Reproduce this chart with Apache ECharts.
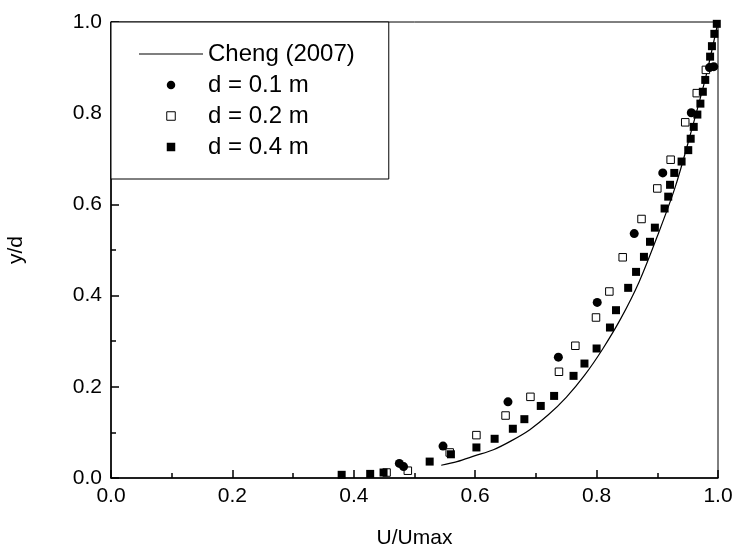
<!DOCTYPE html>
<html>
<head>
<meta charset="utf-8">
<script src="https://cdn.jsdelivr.net/npm/echarts@6/dist/echarts.min.js"></script>
<style>
html,body{margin:0;padding:0;background:#fff;}
#chart{width:737px;height:549px;}
</style>
</head>
<body>
<div id="chart"></div>
<script>
// Cheng (2007) curve
var chengX = [0.544, 0.57, 0.60, 0.63, 0.66, 0.69, 0.72, 0.75, 0.78, 0.81, 0.84, 0.87, 0.90, 0.93, 0.96, 0.98, 1.0];
var chengY = [0.028, 0.036, 0.049, 0.062, 0.082, 0.106, 0.138, 0.177, 0.225, 0.283, 0.350, 0.430, 0.530, 0.640, 0.780, 0.880, 1.0];

// d = 0.1 m (filled circles)
var d1X = [0.475, 0.482, 0.547, 0.654, 0.737, 0.801, 0.862, 0.909, 0.956, 0.986, 0.993];
var d1Y = [0.032, 0.025, 0.070, 0.167, 0.265, 0.385, 0.536, 0.669, 0.801, 0.900, 0.902];

// d = 0.2 m (open squares)
var d2X = [0.454, 0.489, 0.558, 0.602, 0.650, 0.691, 0.738, 0.765, 0.799, 0.821, 0.843, 0.874, 0.900, 0.922, 0.946, 0.965, 0.980];
var d2Y = [0.012, 0.016, 0.056, 0.094, 0.137, 0.178, 0.233, 0.290, 0.352, 0.409, 0.484, 0.568, 0.635, 0.698, 0.780, 0.844, 0.895];

// d = 0.4 m (filled squares)
var d4X = [0.380, 0.427, 0.449, 0.525, 0.560, 0.602, 0.632, 0.662, 0.681, 0.708, 0.730, 0.762, 0.780, 0.800, 0.822, 0.832, 0.852, 0.865, 0.878, 0.888, 0.896, 0.912, 0.918, 0.921, 0.928, 0.940, 0.951, 0.955, 0.960, 0.966, 0.971, 0.975, 0.979, 0.987, 0.990, 0.994, 0.998];
var d4Y = [0.007, 0.009, 0.012, 0.036, 0.052, 0.067, 0.086, 0.108, 0.129, 0.158, 0.180, 0.224, 0.251, 0.284, 0.330, 0.368, 0.417, 0.452, 0.485, 0.518, 0.549, 0.591, 0.617, 0.643, 0.669, 0.694, 0.719, 0.744, 0.770, 0.797, 0.821, 0.847, 0.873, 0.924, 0.947, 0.974, 0.996];

var seriesNames = ['Cheng (2007)', 'd = 0.1 m', 'd = 0.2 m', 'd = 0.4 m'];
var xTitle = 'U/Umax';
var yTitle = 'y/d';

function pairs(xs, ys) { return xs.map(function (x, i) { return [x, ys[i]]; }); }

var FONT = '"Liberation Sans", Arial, Helvetica, sans-serif';
var SQUARE = 'path://M0,0H10V10H0Z';
var LINE_ICON = 'path://M0,0H64V1H0Z';

var chart = echarts.init(document.getElementById('chart'), null, {renderer: 'canvas'});

function axisCommon(name, nameGap) {
  return {
    type: 'value', min: 0, max: 1, interval: 0.2,
    name: name, nameLocation: 'middle', nameGap: nameGap,
    nameTextStyle: {color: '#000', fontSize: 21, fontFamily: FONT},
    axisLine: {show: true, onZero: false, lineStyle: {color: '#000', width: 1.5}},
    axisTick: {show: true, inside: true, length: 8, lineStyle: {color: '#000', width: 1.5}},
    minorTick: {show: true, splitNumber: 2, length: 5, lineStyle: {color: '#000', width: 1.5}},
    axisLabel: {color: '#000', fontSize: 21, fontFamily: FONT, margin: 9,
      formatter: function (v) { return v.toFixed(1); }},
    splitLine: {show: false},
    minorSplitLine: {show: false}
  };
}

var xAx = axisCommon(xTitle, 50);
xAx.axisLabel.margin = 8;
var yAx = axisCommon(yTitle, 84);

chart.setOption({
  animation: false,
  backgroundColor: '#fff',
  grid: {left: 111, right: 19, top: 22, bottom: 71, containLabel: false, outerBoundsMode: 'none',
    show: true, borderColor: '#000', borderWidth: 1, backgroundColor: 'transparent'},
  xAxis: xAx,
  yAxis: yAx,
  legend: {
    show: true, orient: 'vertical', left: 111, top: 22,
    padding: [20, 34, 20, 28], itemGap: 7,
    itemWidth: 64, itemHeight: 8.5,
    symbolKeepAspect: true,
    borderColor: '#000', borderWidth: 1, backgroundColor: '#fff',
    textStyle: {color: '#000', fontSize: 24, fontFamily: FONT},
    data: [
      {name: seriesNames[0], icon: LINE_ICON, itemStyle: {color: '#000', borderWidth: 0}},
      {name: seriesNames[1], icon: 'circle', itemStyle: {color: '#000', opacity: 1}},
      {name: seriesNames[2], icon: SQUARE, itemStyle: {color: '#fff', borderColor: '#000', borderWidth: 1, opacity: 1}},
      {name: seriesNames[3], icon: SQUARE, itemStyle: {color: '#000', opacity: 1}}
    ]
  },
  series: [
    {
      name: seriesNames[0], type: 'line', data: pairs(chengX, chengY),
      symbol: 'none', showSymbol: false, smooth: 0.3,
      lineStyle: {color: '#000', width: 1.2}, itemStyle: {color: '#000'}, z: 1
    },
    {
      name: seriesNames[1], type: 'scatter', data: pairs(d1X, d1Y),
      symbol: 'circle', symbolSize: 9, itemStyle: {color: '#000', opacity: 1}, z: 3
    },
    {
      name: seriesNames[2], type: 'scatter', data: pairs(d2X, d2Y),
      symbol: 'rect', symbolSize: 7.5, itemStyle: {color: '#fff', borderColor: '#000', borderWidth: 1, opacity: 1}, z: 2
    },
    {
      name: seriesNames[3], type: 'scatter', data: pairs(d4X, d4Y),
      symbol: 'rect', symbolSize: 8, itemStyle: {color: '#000', opacity: 1}, z: 2
    }
  ]
});
</script>
</body>
</html>
